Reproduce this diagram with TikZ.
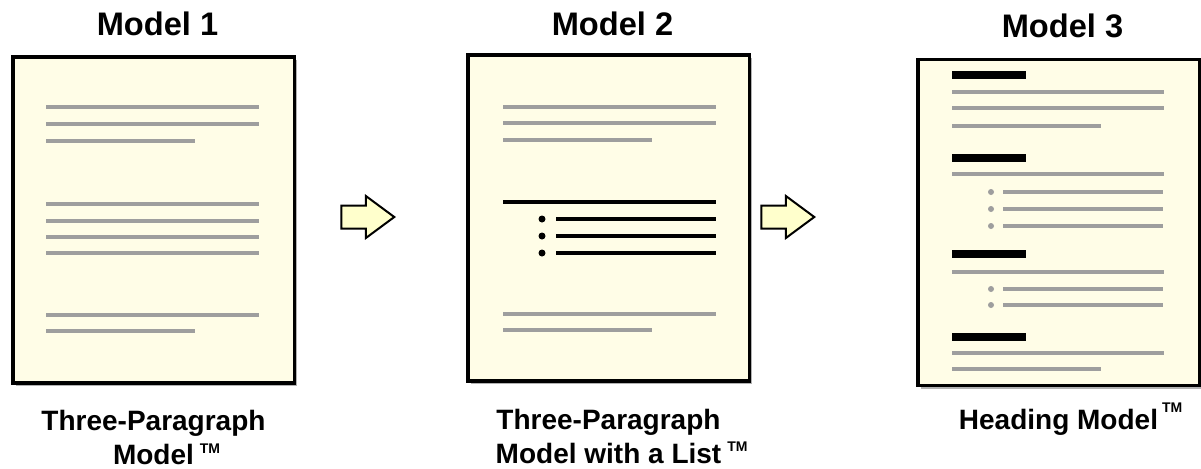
\documentclass[tikz,border=0pt]{standalone}
\usepackage{fontspec}
\setmainfont{Liberation Sans}
\usetikzlibrary{positioning,shapes.arrows,shadows}

\definecolor{pagefill}{RGB}{255,253,231}
\definecolor{arrowfill}{RGB}{255,255,204}
\definecolor{textgray}{RGB}{158,158,158}

% raised trade mark after a word
\newcommand{\tmark}[2]{\smash{\rlap{\hspace{#1}\raisebox{#2}{\fontsize{7}{7}\selectfont TM}}}}

\begin{document}
\begin{tikzpicture}[x=0.5pt,y=-0.5pt,
    page/.style={draw=black,line width=1.75pt,fill=pagefill,minimum width=140.75pt,minimum height=163pt,inner sep=0pt,
        drop shadow={shadow xshift=1.5pt,shadow yshift=-1.5pt,opacity=0.3,fill=black}},
    title/.style={inner sep=0pt,xshift=2pt,font=\bfseries\fontsize{16.3}{19}\selectfont},
    caption/.style={inner sep=0pt,align=center,font=\bfseries\fontsize{14}{17}\selectfont},
    nextarrow/.style={single arrow,draw=black,line width=1pt,fill=arrowfill,inner xsep=0pt,inner ysep=5.25pt,
        minimum height=26.5pt,single arrow head extend=4.75pt,single arrow tip angle=73,single arrow head indent=0pt},
    greyline/.style={draw=textgray,line width=2pt},
    blackline/.style={draw=black,line width=2.25pt},
    headbar/.style={draw=black,line width=3.75pt}]
    \useasboundingbox (0,0) rectangle (1201,468);
    % the three pages
    \node[page] (page1) at (153.5,220) {};
    \node[page] (page2) at (608.5,218) {};
    \node[page] (page3) at (1058.5,222.5) {};
    \node[title,above=9.5pt of page1] (title1) {Model 1};
    \node[title,above=8.5pt of page2] (title2) {Model 2};
    \node[title,above=9.5pt of page3] (title3) {Model 3};
    \node[caption,below=12.3pt of page1] (caption1) {Three-Paragraph\\Model\tmark{3pt}{5.5pt}};
    \node[caption,below=12.8pt of page2] (caption2) {Three-Paragraph\\Model with a List\tmark{3pt}{6pt}};
    \node[caption,below=10.8pt of page3] (caption3) {Heading Model\tmark{2pt}{8.5pt}};
    % arrows between the pages
    \node[nextarrow] (arrow1) at (360,217) {};
    \node[nextarrow] (arrow2) at (780,217) {};
    % page 1: three paragraphs
    \foreach \y in {107,124,204,221,237,253,315} \draw[greyline] (46,\y) -- (259,\y);
    \foreach \y in {141,331} \draw[greyline] (46,\y) -- (195,\y);
    % page 2: paragraphs and a list
    \foreach \y in {107,123,314} \draw[greyline] (503,\y) -- (716,\y);
    \foreach \y in {140,330} \draw[greyline] (503,\y) -- (652,\y);
    \draw[blackline] (503,202) -- (716,202);
    \foreach \y in {219,236,253}{
        \fill (542,\y) circle[radius=1.75pt];
        \draw[blackline] (556,\y) -- (716,\y);
    }
    % page 3: headings
    \foreach \y in {75,158,254,337} \draw[headbar] (952,\y) -- (1026,\y);
    \foreach \y in {92,108,174,272,353} \draw[greyline] (952,\y) -- (1164,\y);
    \foreach \y in {126,369} \draw[greyline] (952,\y) -- (1101,\y);
    \foreach \y in {192,209,226,289,305}{
        \fill[textgray] (991,\y) circle[radius=1.5pt];
        \draw[greyline] (1003,\y) -- (1163,\y);
    }
\end{tikzpicture}
\end{document}
